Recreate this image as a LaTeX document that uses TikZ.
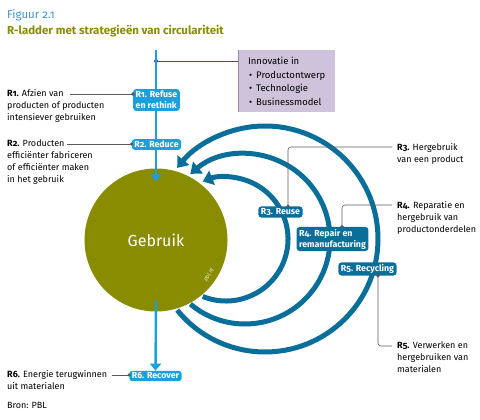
\documentclass[tikz,border=0pt]{standalone}
\usepackage{fontspec}
\setmainfont{Fira Sans}[Numbers=OldStyle]
\usepackage{tikz}
\usetikzlibrary{arrows.meta,positioning,calc}
\definecolor{pblblue}{HTML}{1BA0DC}
\definecolor{pbldark}{HTML}{0A6E9B}
\definecolor{pblolive}{HTML}{8A8C00}
\definecolor{pbllilac}{HTML}{CEC3DA}
\definecolor{pblpurple}{HTML}{5E3F7E}
\definecolor{pblgrey}{HTML}{5A5A5A}
\definecolor{figblue}{HTML}{3D93CC}
\tikzstyle{rstep} = [rectangle, rounded corners=3pt, fill=pblblue, text=white, align=left, inner xsep=2.5pt, inner ysep=2pt, font=\fontsize{8.8}{11}\selectfont\bfseries]
\tikzstyle{flow} = [draw=pblblue, line width=2.4pt, -{Triangle[length=7pt,width=11pt]}]
\tikzset{
  loopstep/.style={rstep, fill=pbldark},
  ringarrow/.style={draw=pbldark, line width=5pt, -{Triangle[length=10pt,width=15pt]}},
  note/.style={anchor=north west, align=left, inner sep=0pt, font=\fontsize{9}{12}\selectfont},
  leader/.style={draw=pblgrey, line width=0.6pt, rounded corners=3pt},
  pindot/.style={circle, fill=pblgrey, inner sep=0pt, minimum size=3.6pt}
}
\begin{document}
\begin{tikzpicture}[x=1pt, y=-1pt]
    \useasboundingbox (0,0) rectangle (480,420);
    % titles
    \node (Fig) [anchor=west, inner sep=0pt, text=figblue, font=\fontsize{11.5}{13}\selectfont] at (7,15) {Figuur 2.1};
    \node (Title) [anchor=west, inner sep=0pt, text=pblolive, font=\fontsize{11.5}{13}\selectfont\bfseries] at (7,31) {R-ladder met strategieën van circulariteit};
    % nodes
    \node (Gebruik) [circle, fill=pblolive, minimum size=143pt, inner sep=0pt, text=white, font=\fontsize{16}{19}\selectfont] at (156,240) {Gebruik};
    \node (Pbl) [rotate=57, inner sep=0pt, text=white!85!pblolive, font=\fontsize{5.5}{6}\selectfont\itshape] at (209,275) {pbl.nl};
    \node (Recover) [rstep] at (155.5,376) {R6. Recover};
    \node (Innovatie) [anchor=north west, fill=pbllilac, minimum width=97pt, minimum height=62pt, align=left, inner xsep=6pt, font=\fontsize{9.5}{13.5}\selectfont] at (238,50)
        {Innovatie in\\\hspace{1pt}\textbullet\hspace{4pt}Productontwerp\\\hspace{1pt}\textbullet\hspace{4pt}Technologie\\\hspace{1pt}\textbullet\hspace{4pt}Businessmodel};
    \draw [pbllilac!55!pblpurple, line width=1pt] (Innovatie.north west) -- (Innovatie.south west);
    % arrows
    \coordinate (Top) at (156,50);
    \coordinate (Branch) at (156,61);
    \draw [pblpurple, line width=0.7pt] (Branch) -- (Branch -| Innovatie.west);
    \fill [pblpurple] (Branch) circle (2pt);
    \draw [flow] (Top) -- ([yshift=-13pt]Gebruik.north);
    \draw [flow] ([yshift=11pt]Gebruik.south) -- (Recover.north);
    \coordinate (C3) at (226,239);
    \coordinate (C4) at (245,239);
    \coordinate (C5) at (265,239);
    \draw [ringarrow] ($(C3)+(-112:62pt)$) arc[start angle=-112, end angle=112, radius=62pt];
    \draw [ringarrow] ($(C4)+(-130:85pt)$) arc[start angle=-130, end angle=130, radius=85pt];
    \draw [ringarrow] ($(C5)+(-141:113pt)$) arc[start angle=-141, end angle=141, radius=113pt];
    % steps
    \node (Refuse)    [rstep] at (156.5,100) {R1. Refuse\\en rethink};
    \node (Reduce)    [rstep] at (156.5,144.5) {R2. Reduce};
    \node (Reuse)     [loopstep] at (280.5,212) {R3. Reuse};
    \node (Repair)    [loopstep] at (332.5,239) {R4. Repair en\\remanufacturing};
    \node (Recycling) [loopstep] at (367.5,269) {R5. Recycling};
    % notes
    \node (NoteR1) [note] at (7,89.5) {\textbf{R1.} Afzien van\\producten of producten\\intensiever gebruiken};
    \node (NoteR2) [note] at (7,139.5) {\textbf{R2.} Producten\\efficiënter fabriceren\\of efficiënter maken\\in het gebruik};
    \node (NoteR3) [note] at (397,143) {\textbf{R3.} Hergebruik\\van een product};
    \node (NoteR4) [note] at (397,201) {\textbf{R4.} Reparatie en\\hergebruik van\\productonderdelen};
    \node (NoteR5) [note] at (397,342) {\textbf{R5.} Verwerken en\\hergebruiken van\\materialen};
    \node (NoteR6) [note] at (7,370.5) {\textbf{R6.} Energie terugwinnen\\uit materialen};
    \node (Bron)   [note] at (7,402) {Bron: PBL};
    % leaders
    \coordinate (L1) at (70,94);
    \coordinate (L2) at (67,144);
    \coordinate (L3) at (392,147);
    \coordinate (L4) at (392,205);
    \coordinate (L5) at (392,346);
    \coordinate (L6) at (112,375);
    \draw [leader] (L1) -- (L1 -| Refuse.west) node[pindot]{};
    \draw [leader] (L2) -- (L2 -| Reduce.west) node[pindot]{};
    \draw [leader] (L6) -- (L6 -| Recover.west) node[pindot]{};
    \draw [leader] ([xshift=7.5pt]Reuse.north) node[pindot]{} |- (L3);
    \draw [leader] ([xshift=9.5pt]Repair.north) node[pindot]{} |- (L4);
    \draw [leader] ([xshift=10.5pt]Recycling.south) node[pindot]{} |- (L5);
\end{tikzpicture}
\end{document}
